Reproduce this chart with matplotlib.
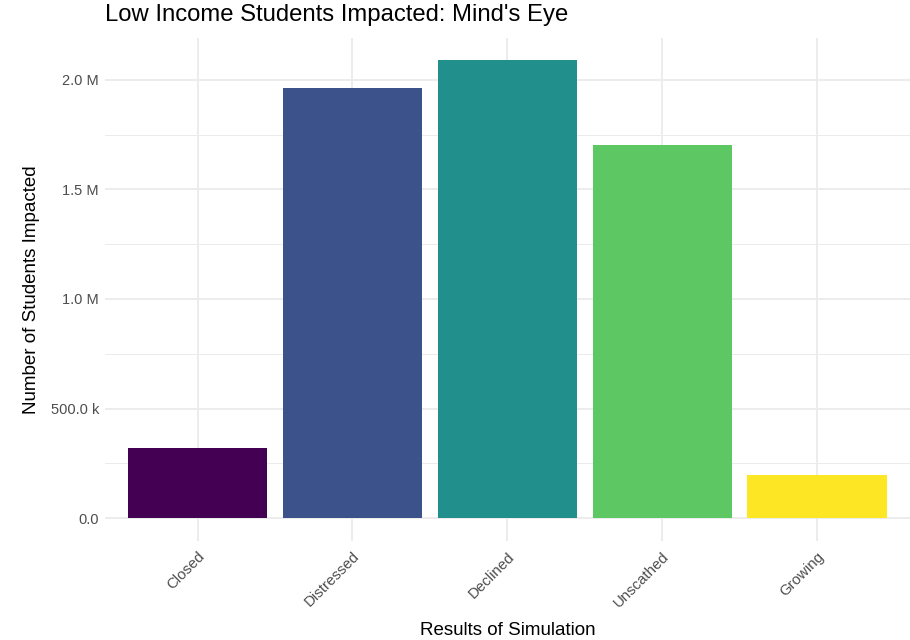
import matplotlib
matplotlib.use("Agg")
import matplotlib.pyplot as plt
import numpy as np

plt.rcParams['font.family'] = ['Liberation Sans', 'DejaVu Sans']

categories = ["Closed", "Distressed", "Declined", "Unscathed", "Growing"]
students = [320000, 1963000, 2089000, 1705000, 199000]
colors = ["#440154", "#3B528B", "#21908C", "#5DC863", "#FDE725"]
y_ticks = [0, 500000, 1000000, 1500000, 2000000]
y_tick_labels = ["0.0", "500.0 k", "1.0 M", "1.5 M", "2.0 M"]
y_minor = [250000, 750000, 1250000, 1750000]

fig = plt.figure(figsize=(9.1, 6.4), dpi=100)
ax = fig.add_axes([0.1150, 0.1547, 0.8850, 0.7867])

x = np.arange(len(categories))
ax.bar(x, students, width=0.9, color=colors, zorder=3)

ymax = max(students)
pad = 0.05 * ymax
ax.set_ylim(-pad, ymax + pad)
ax.set_xlim(-0.6, len(categories) - 0.4)

ax.set_xticks(x)
ax.set_xticklabels(categories, rotation=45, ha="right", rotation_mode="anchor",
                   color="#4D4D4D", fontsize=10.8)
ax.set_yticks(y_ticks)
ax.set_yticklabels(y_tick_labels, color="#4D4D4D", fontsize=10.5)
ax.set_yticks(y_minor, minor=True)

ax.grid(which="major", color="#EBEBEB", linewidth=1.3, zorder=0)
ax.grid(which="minor", axis="y", color="#EBEBEB", linewidth=0.7, zorder=0)
ax.tick_params(which="both", length=0, pad=4)
ax.tick_params(axis="x", pad=6)
for s in ax.spines.values():
    s.set_visible(False)

ax.set_xlabel("Results of Simulation", fontsize=13.5, color="black", labelpad=9)
ax.set_ylabel("Number of Students Impacted", fontsize=13.5, color="black", labelpad=8)
fig.text(0.1150, 1 - 15 / 640, "Low Income Students Impacted: Mind's Eye",
         fontsize=17.2, ha="left", va="center")

fig.savefig("out.png", dpi=100)
